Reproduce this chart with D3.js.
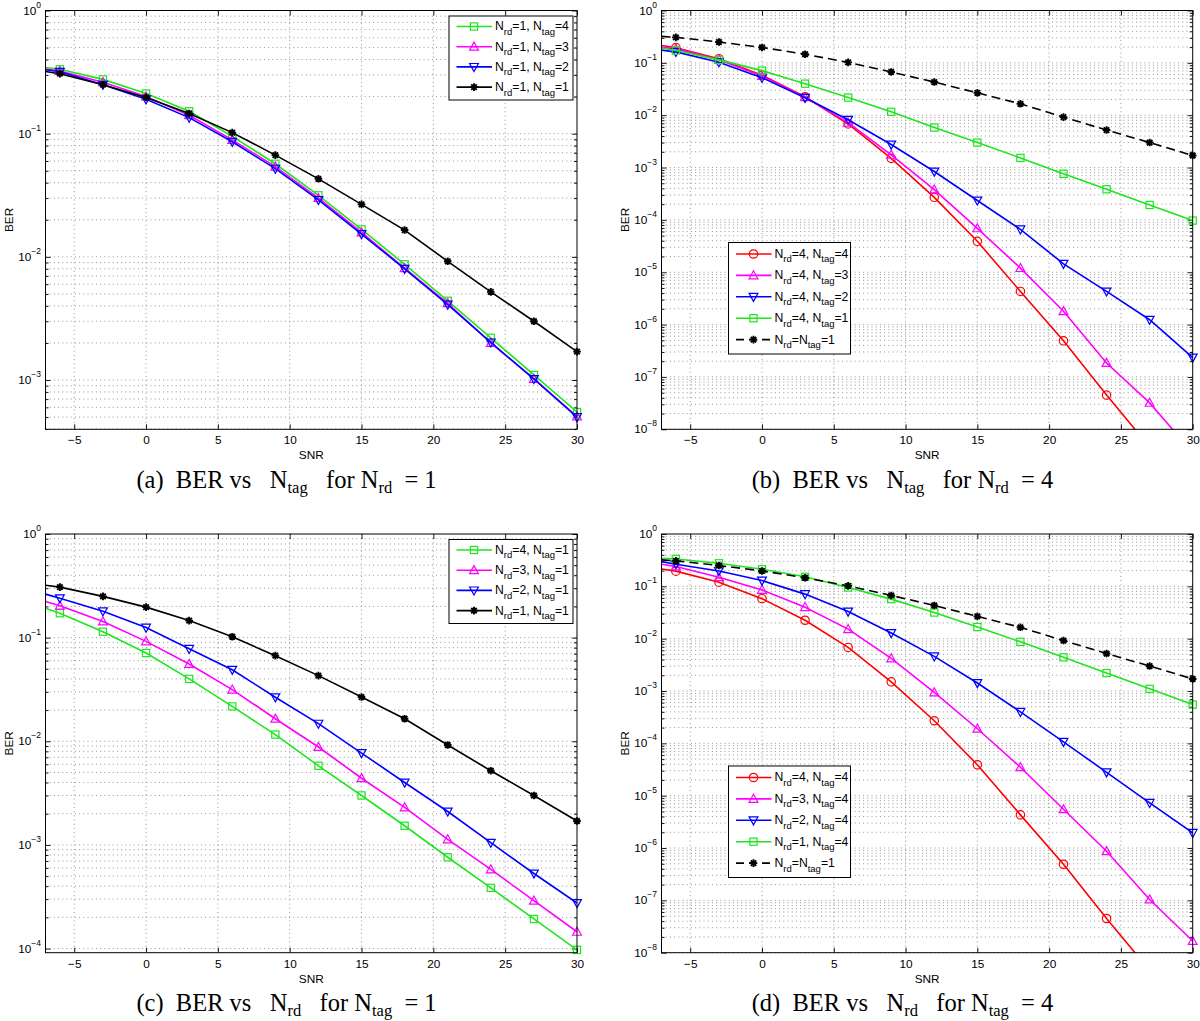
<!DOCTYPE html>
<html><head><meta charset="utf-8">
<script src="https://cdn.jsdelivr.net/npm/d3@7"></script>
<style>body{margin:0;background:#fff;} svg{display:block;}</style>
</head><body>
<svg id="chart" width="1200" height="1021"></svg>
<script>
// ---------------- data ----------------
const SNR = [-7, -6, -3, 0, 3, 6, 9, 12, 15, 18, 21, 24, 27, 30];
const X_TICKS = [-5, 0, 5, 10, 15, 20, 25, 30];

const BER_RD1_TAG1 = [0.32, 0.307, 0.25, 0.197, 0.146, 0.102, 0.067, 0.043, 0.0267, 0.0165, 0.0092, 0.0052, 0.0030, 0.0017];
const BER_RD1_TAG4 = [0.345, 0.333, 0.276, 0.212, 0.152, 0.095, 0.057, 0.0316, 0.0167, 0.0087, 0.0044, 0.0022, 0.0011, 0.00055];
const BER_RD1_TAG3 = [0.335, 0.322, 0.262, 0.200, 0.141, 0.089, 0.054, 0.0300, 0.0158, 0.0081, 0.0042, 0.0020, 0.00102, 0.000505];
const BER_RD1_TAG2 = [0.33, 0.318, 0.250, 0.190, 0.135, 0.086, 0.052, 0.0290, 0.0153, 0.0080, 0.0041, 0.00202, 0.00102, 0.000500];

const BER_RD4_TAG4 = [0.215, 0.195, 0.12, 0.058, 0.0225, 0.0068, 0.0015, 2.7e-4, 3.9e-5, 4.3e-6, 4.9e-7, 4.5e-8, 4.6e-9, 4.5e-10];
const BER_RD4_TAG3 = [0.2, 0.185, 0.115, 0.056, 0.022, 0.0072, 0.00175, 3.8e-4, 6.9e-5, 1.2e-5, 1.8e-6, 1.85e-7, 3.2e-8, 3.6e-9];
const BER_RD4_TAG2 = [0.175, 0.162, 0.103, 0.052, 0.0215, 0.0082, 0.00275, 8.4e-4, 2.35e-4, 6.6e-5, 1.45e-5, 4.3e-6, 1.24e-6, 2.35e-7];
const BER_RD4_TAG1 = [0.192, 0.172, 0.114, 0.071, 0.040, 0.0217, 0.0116, 0.0058, 0.0030, 0.00153, 7.6e-4, 3.85e-4, 1.93e-4, 9.7e-5];

const BER_RD3_TAG1 = [0.223, 0.203, 0.143, 0.092, 0.0557, 0.0315, 0.0165, 0.0088, 0.0044, 0.0023, 0.00113, 5.8e-4, 2.9e-4, 1.45e-4];
const BER_RD2_TAG1 = [0.263, 0.24, 0.18, 0.125, 0.078, 0.049, 0.0266, 0.0148, 0.0077, 0.0040, 0.0021, 0.00105, 5.3e-4, 2.75e-4];

const BER_RD3_TAG4 = [0.265, 0.24, 0.149, 0.0855, 0.040, 0.0152, 0.0042, 9.4e-4, 1.9e-4, 3.5e-5, 5.5e-6, 8.7e-7, 1.04e-7, 1.67e-8];
const BER_RD2_TAG4 = [0.297, 0.265, 0.197, 0.129, 0.071, 0.033, 0.0128, 0.0046, 0.00142, 4.0e-4, 1.07e-4, 2.8e-5, 7.3e-6, 1.95e-6];

const CAPTIONS = [
  "(a)  BER vs   N_{tag}   for N_{rd}  = 1",
  "(b)  BER vs   N_{tag}   for N_{rd}  = 4",
  "(c)  BER vs   N_{rd}   for N_{tag}  = 1",
  "(d)  BER vs   N_{rd}   for N_{tag}  = 4"
];

// ---------------- styles ----------------
const COLORS = {green: "#1fe51f", magenta: "#ff00ff", blue: "#0000ff", black: "#000000", red: "#ff0000"};
const SANS = "'Liberation Sans', Arial, Helvetica, sans-serif";
const SERIF = "'Liberation Serif', 'Times New Roman', serif";

const panels = [
  {L: 45.5, T: 10.5, R: 577, B: 429.3, yLo: -3.4, legend: "ne", caption: CAPTIONS[0],
   series: [
     {v: BER_RD1_TAG4, c: "green", m: "square", label: "N_{rd}=1, N_{tag}=4"},
     {v: BER_RD1_TAG3, c: "magenta", m: "up", label: "N_{rd}=1, N_{tag}=3"},
     {v: BER_RD1_TAG2, c: "blue", m: "down", label: "N_{rd}=1, N_{tag}=2"},
     {v: BER_RD1_TAG1, c: "black", m: "star", label: "N_{rd}=1, N_{tag}=1"}
   ]},
  {L: 661.5, T: 10.5, R: 1192.7, B: 429.3, yLo: -8, legend: "mid", caption: CAPTIONS[1],
   series: [
     {v: BER_RD4_TAG4, c: "red", m: "circle", label: "N_{rd}=4, N_{tag}=4"},
     {v: BER_RD4_TAG3, c: "magenta", m: "up", label: "N_{rd}=4, N_{tag}=3"},
     {v: BER_RD4_TAG2, c: "blue", m: "down", label: "N_{rd}=4, N_{tag}=2"},
     {v: BER_RD4_TAG1, c: "green", m: "square", label: "N_{rd}=4, N_{tag}=1"},
     {v: BER_RD1_TAG1, c: "black", m: "star", dash: true, label: "N_{rd}=N_{tag}=1"}
   ]},
  {L: 45.5, T: 534, R: 577, B: 952.7, yLo: -4.04, legend: "ne", caption: CAPTIONS[2],
   series: [
     {v: BER_RD4_TAG1, c: "green", m: "square", label: "N_{rd}=4, N_{tag}=1"},
     {v: BER_RD3_TAG1, c: "magenta", m: "up", label: "N_{rd}=3, N_{tag}=1"},
     {v: BER_RD2_TAG1, c: "blue", m: "down", label: "N_{rd}=2, N_{tag}=1"},
     {v: BER_RD1_TAG1, c: "black", m: "star", label: "N_{rd}=1, N_{tag}=1"}
   ]},
  {L: 661.5, T: 534, R: 1192.7, B: 952.7, yLo: -8, legend: "mid", caption: CAPTIONS[3],
   series: [
     {v: BER_RD4_TAG4, c: "red", m: "circle", label: "N_{rd}=4, N_{tag}=4"},
     {v: BER_RD3_TAG4, c: "magenta", m: "up", label: "N_{rd}=3, N_{tag}=4"},
     {v: BER_RD2_TAG4, c: "blue", m: "down", label: "N_{rd}=2, N_{tag}=4"},
     {v: BER_RD1_TAG4, c: "green", m: "square", label: "N_{rd}=1, N_{tag}=4"},
     {v: BER_RD1_TAG1, c: "black", m: "star", dash: true, label: "N_{rd}=N_{tag}=1"}
   ]}
];

// ---------------- helpers ----------------
function richText(sel, str, subSize, subDy) {
  const re = /_\{([^}]*)\}/g; let last = 0, m; const parts = [];
  while ((m = re.exec(str))) {
    if (m.index > last) parts.push([str.slice(last, m.index), false]);
    parts.push([m[1], true]); last = re.lastIndex;
  }
  if (last < str.length) parts.push([str.slice(last), false]);
  let shifted = false;
  parts.forEach(([t, sub]) => {
    const ts = sel.append("tspan").text(t);
    if (sub) { ts.attr("font-size", subSize).attr("dy", subDy); shifted = true; }
    else if (shifted) { ts.attr("dy", -subDy); shifted = false; }
  });
}

function drawMarker(g, type, cx, cy, color) {
  const sw = 1.2;
  if (type === "square") {
    g.append("rect").attr("x", cx - 3.6).attr("y", cy - 3.6).attr("width", 7.2).attr("height", 7.2)
      .attr("fill", "none").attr("stroke", color).attr("stroke-width", sw);
  } else if (type === "circle") {
    g.append("circle").attr("cx", cx).attr("cy", cy).attr("r", 4.2)
      .attr("fill", "none").attr("stroke", color).attr("stroke-width", sw);
  } else if (type === "up") {
    g.append("path").attr("d", `M${cx},${cy - 4.6}L${cx + 4.4},${cy + 3.4}L${cx - 4.4},${cy + 3.4}Z`)
      .attr("fill", "none").attr("stroke", color).attr("stroke-width", sw);
  } else if (type === "down") {
    g.append("path").attr("d", `M${cx},${cy + 4.6}L${cx + 4.4},${cy - 3.4}L${cx - 4.4},${cy - 3.4}Z`)
      .attr("fill", "none").attr("stroke", color).attr("stroke-width", sw);
  } else if (type === "star") {
    const r = 3.8, d = r * 0.72;
    g.append("path")
      .attr("d", `M${cx - r},${cy}L${cx + r},${cy}M${cx},${cy - r}L${cx},${cy + r}M${cx - d},${cy - d}L${cx + d},${cy + d}M${cx - d},${cy + d}L${cx + d},${cy - d}`)
      .attr("stroke", color).attr("stroke-width", 1.9).attr("fill", "none");
  }
}

const svg = d3.select("#chart");
svg.append("rect").attr("width", 1200).attr("height", 1021).attr("fill", "#fff");

panels.forEach((p, pi) => {
  const x = d3.scaleLinear().domain([-7, 30]).range([p.L, p.R]);
  const yMin = Math.pow(10, p.yLo);
  const y = d3.scaleLog().domain([yMin, 1]).range([p.B, p.T]);
  const g = svg.append("g");

  // decades and minor values
  const majors = [], minors = [];
  for (let e = Math.floor(p.yLo); e <= 0; e++) {
    for (let k = 1; k < 10; k++) {
      const v = k * Math.pow(10, e);
      if (v < yMin * 0.9999 || v > 1.0001) continue;
      (k === 1 ? majors : minors).push(v);
    }
  }

  // grid
  const grid = g.append("g").attr("stroke", "#8a8a8a").attr("stroke-width", 0.9).attr("stroke-dasharray", "1,3.2");
  grid.selectAll("line.h").data(majors.concat(minors).filter(v => v < 0.9999))
    .join("line").attr("x1", p.L).attr("x2", p.R).attr("y1", d => y(d)).attr("y2", d => y(d));
  grid.selectAll("line.v").data(X_TICKS.filter(t => t < 30))
    .join("line").attr("y1", p.T).attr("y2", p.B).attr("x1", d => x(d)).attr("x2", d => x(d));

  // axes (inward ticks)
  const axB = g.append("g").attr("transform", `translate(0,${p.B})`)
    .call(d3.axisBottom(x).tickValues(X_TICKS).tickSize(-5).tickPadding(6.8).tickSizeOuter(0));
  const axT = g.append("g").attr("transform", `translate(0,${p.T})`)
    .call(d3.axisTop(x).tickValues(X_TICKS).tickSize(-5).tickFormat("").tickSizeOuter(0));
  const axL = g.append("g").attr("transform", `translate(${p.L},0)`)
    .call(d3.axisLeft(y).tickValues(majors).tickSize(-5).tickFormat("").tickSizeOuter(0));
  const axLm = g.append("g").attr("transform", `translate(${p.L},0)`)
    .call(d3.axisLeft(y).tickValues(minors).tickSize(-3).tickFormat("").tickSizeOuter(0));
  const axR = g.append("g").attr("transform", `translate(${p.R},0)`)
    .call(d3.axisRight(y).tickValues(majors).tickSize(-5).tickFormat("").tickSizeOuter(0));
  const axRm = g.append("g").attr("transform", `translate(${p.R},0)`)
    .call(d3.axisRight(y).tickValues(minors).tickSize(-3).tickFormat("").tickSizeOuter(0));
  [axB, axT, axL, axLm, axR, axRm].forEach(a => {
    a.select(".domain").remove();
    a.selectAll(".tick line").attr("stroke", "#000").attr("stroke-width", 0.9);
  });
  axB.selectAll(".tick text").attr("font-family", SANS).attr("font-size", 11.8).attr("fill", "#000");

  // y tick labels 10^e
  majors.forEach(v => {
    const e = Math.round(Math.log10(v));
    const t = g.append("text").attr("x", p.L - 4.5).attr("y", y(v) + 4.1)
      .attr("text-anchor", "end").attr("font-family", SANS).attr("font-size", 11.8).attr("fill", "#000");
    t.append("tspan").text("10");
    t.append("tspan").attr("font-size", 8.5).attr("dy", -7).text(e === 0 ? "0" : "\u2212" + (-e));
  });

  // clip
  const cid = "clip" + pi;
  svg.append("clipPath").attr("id", cid).append("rect")
    .attr("x", p.L).attr("y", p.T).attr("width", p.R - p.L).attr("height", p.B - p.T);

  // series
  const line = d3.line().x((d, i) => x(SNR[i])).y(d => y(d));
  const plot = g.append("g");
  p.series.forEach(s => {
    const col = COLORS[s.c];
    plot.append("path").attr("d", line(s.v)).attr("fill", "none").attr("stroke", col)
      .attr("stroke-width", 1.6).attr("stroke-dasharray", s.dash ? "9,5" : null)
      .attr("clip-path", `url(#${cid})`);
    const mg = plot.append("g");
    s.v.forEach((v, i) => {
      if (i === 0 || v < yMin) return;
      drawMarker(mg, s.m, x(SNR[i]), y(v), col);
    });
  });

  // box
  g.append("rect").attr("x", p.L).attr("y", p.T).attr("width", p.R - p.L).attr("height", p.B - p.T)
    .attr("fill", "none").attr("stroke", "#000").attr("stroke-width", 1);

  // axis labels
  g.append("text").attr("x", (p.L + p.R) / 2).attr("y", p.B + 30).attr("text-anchor", "middle")
    .attr("font-family", SANS).attr("font-size", 11.8).text("SNR");
  g.append("text").attr("transform", `translate(${p.L - 33},${(p.T + p.B) / 2}) rotate(-90)`)
    .attr("text-anchor", "middle").attr("font-family", SANS).attr("font-size", 11.8).text("BER");

  // legend
  let bx, by, bw, bh, row0, rowH;
  if (p.legend === "ne") { bx = p.R - 128; by = p.T + 5.5; bw = 124; bh = 84; row0 = 10.5; rowH = 20.2; }
  else { bx = p.L + 67; by = p.T + 232; bw = 122; bh = 111.5; row0 = 11.5; rowH = 21.4; }
  const lg = g.append("g");
  lg.append("rect").attr("x", bx).attr("y", by).attr("width", bw).attr("height", bh)
    .attr("fill", "#fff").attr("stroke", "#000").attr("stroke-width", 1);
  p.series.forEach((s, i) => {
    const ry = by + row0 + i * rowH, col = COLORS[s.c];
    lg.append("line").attr("x1", bx + 7.5).attr("x2", bx + 43).attr("y1", ry).attr("y2", ry)
      .attr("stroke", col).attr("stroke-width", 1.6).attr("stroke-dasharray", s.dash ? "8,5" : null);
    drawMarker(lg, s.m, bx + 25, ry, col);
    const t = lg.append("text").attr("x", bx + 46).attr("y", ry + 3.9)
      .attr("font-family", SANS).attr("font-size", 12.2).attr("fill", "#000");
    richText(t, s.label, 9.5, 4.5);
  });

  // caption
  const ct = svg.append("text").attr("x", p.L + 241).attr("y", p.B + 58.5).attr("text-anchor", "middle")
    .attr("font-family", SERIF).attr("font-size", 24.5).attr("fill", "#000").style("white-space", "pre");
  richText(ct, p.caption, 16.5, 5);
});
</script>
</body></html>
